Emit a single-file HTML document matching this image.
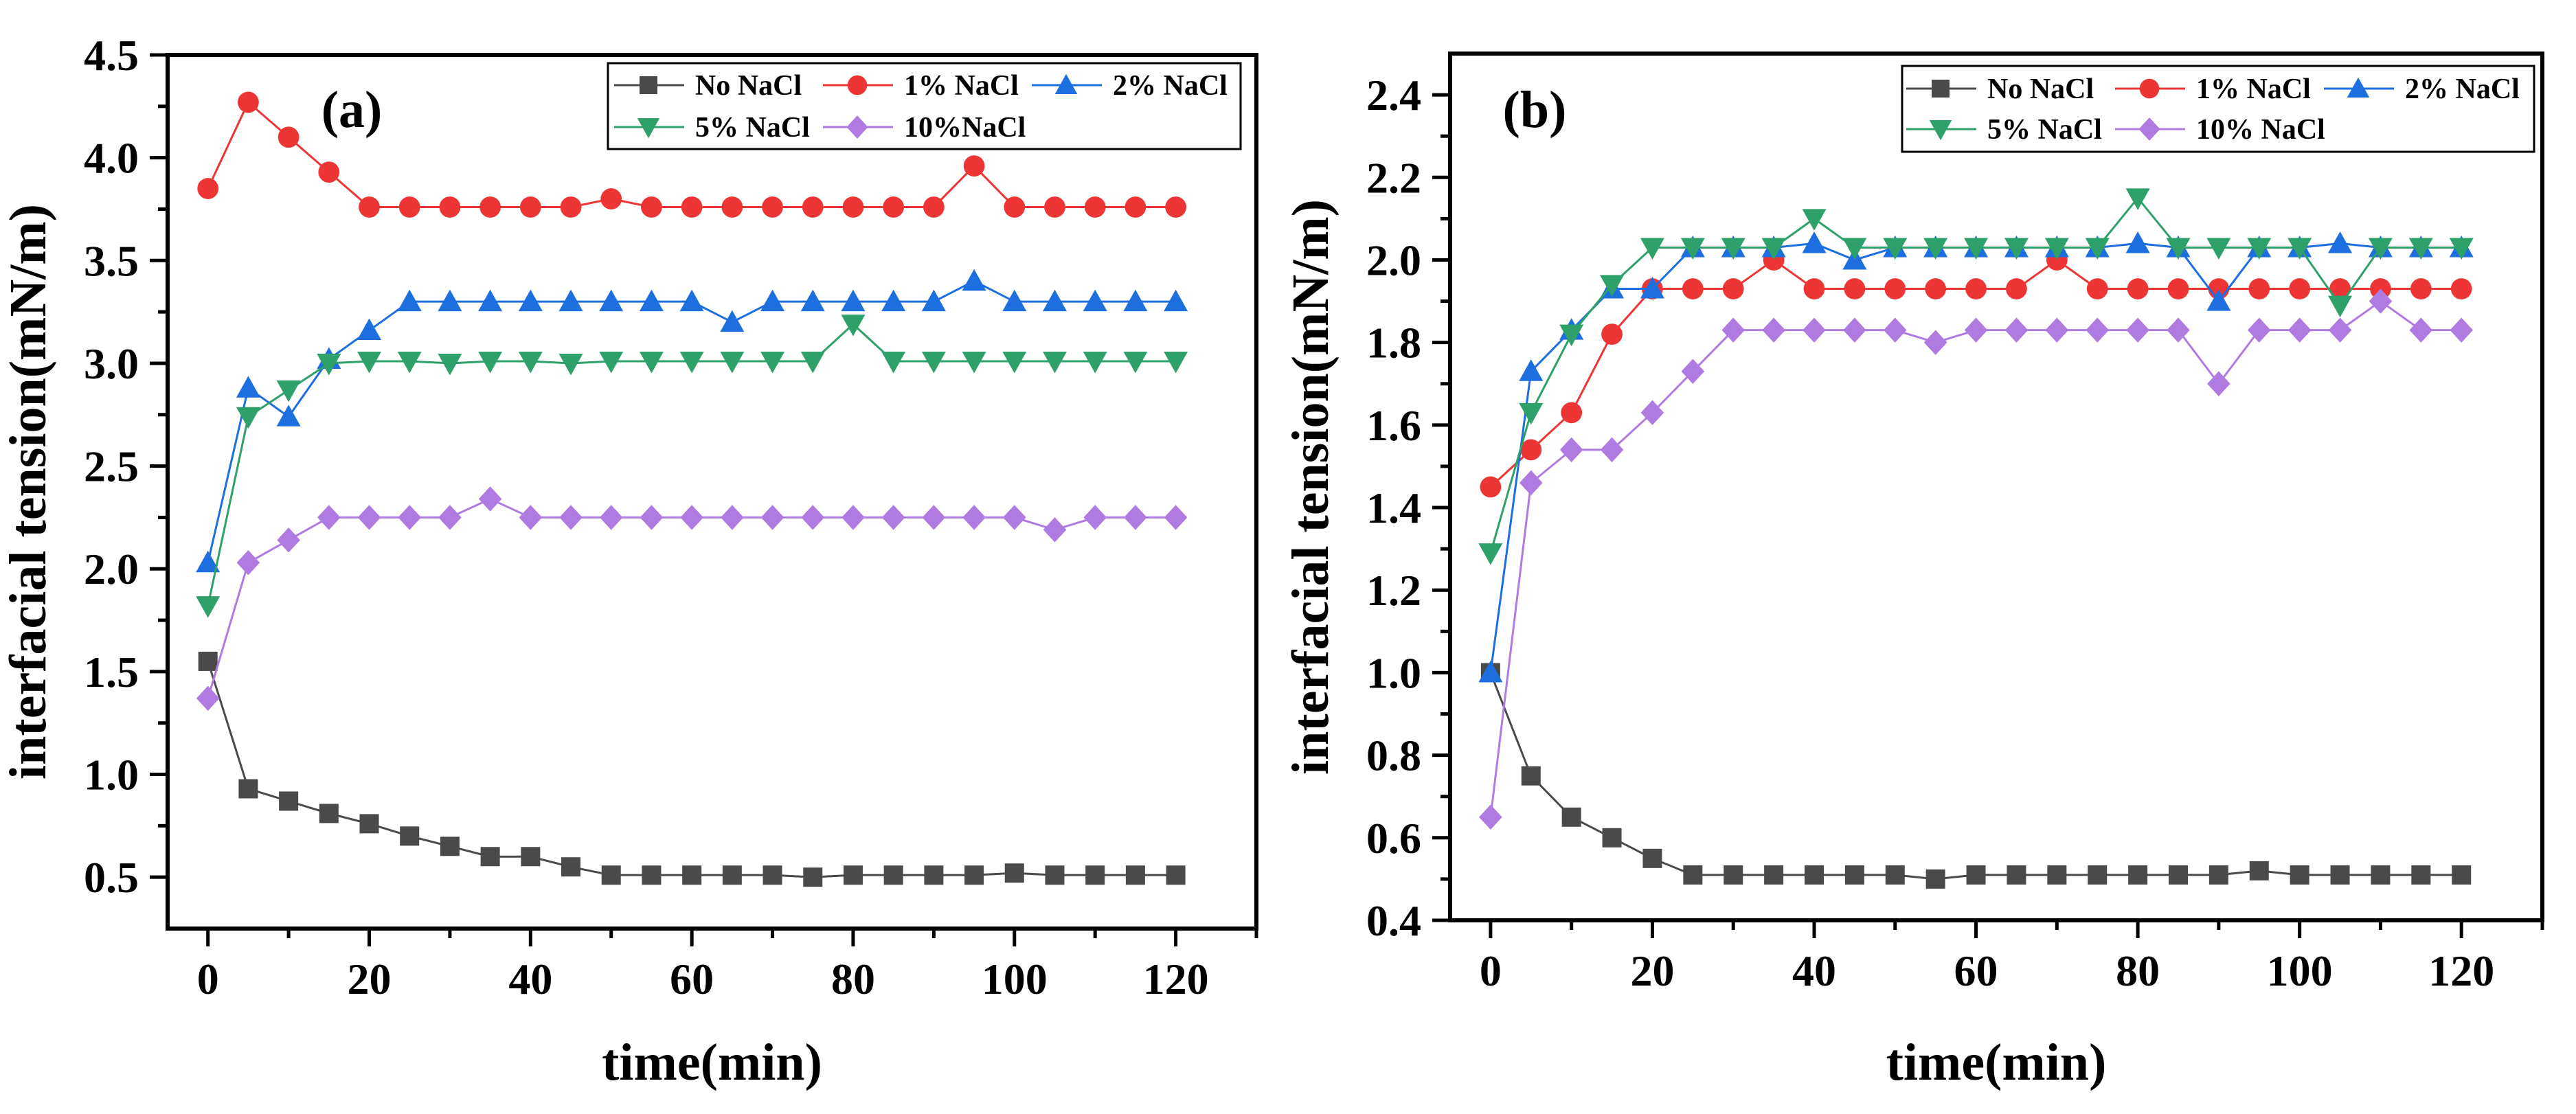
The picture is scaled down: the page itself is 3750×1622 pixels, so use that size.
<!DOCTYPE html>
<html><head><meta charset="utf-8"><style>
html,body{margin:0;padding:0;background:#fff;}
svg{display:block;}
text{font-family:"Liberation Serif",serif;font-weight:bold;fill:#000;}
</style></head>
<body>
<svg id="fig" width="3750" height="1622" viewBox="0 0 3750 1622" xmlns="http://www.w3.org/2000/svg"></svg>
<script>
const times = [0,5,10,15,20,25,30,35,40,45,50,55,60,65,70,75,80,85,90,95,100,105,110,115,120];
const seriesNames = ["No NaCl","1% NaCl","2% NaCl","5% NaCl","10%NaCl"];
const seriesNamesB = ["No NaCl","1% NaCl","2% NaCl","5% NaCl","10% NaCl"];
const aNo  = [1.55,0.93,0.87,0.81,0.76,0.70,0.65,0.60,0.60,0.55,0.51,0.51,0.51,0.51,0.51,0.50,0.51,0.51,0.51,0.51,0.52,0.51,0.51,0.51,0.51];
const a1   = [3.85,4.27,4.10,3.93,3.76,3.76,3.76,3.76,3.76,3.76,3.80,3.76,3.76,3.76,3.76,3.76,3.76,3.76,3.76,3.96,3.76,3.76,3.76,3.76,3.76];
const a2   = [2.03,2.88,2.74,3.02,3.16,3.30,3.30,3.30,3.30,3.30,3.30,3.30,3.30,3.20,3.30,3.30,3.30,3.30,3.30,3.40,3.30,3.30,3.30,3.30,3.30];
const a5   = [1.82,2.74,2.87,3.00,3.01,3.01,3.00,3.01,3.01,3.00,3.01,3.01,3.01,3.01,3.01,3.01,3.19,3.01,3.01,3.01,3.01,3.01,3.01,3.01,3.01];
const a10  = [1.37,2.03,2.14,2.25,2.25,2.25,2.25,2.34,2.25,2.25,2.25,2.25,2.25,2.25,2.25,2.25,2.25,2.25,2.25,2.25,2.25,2.19,2.25,2.25,2.25];
const bNo  = [1.00,0.75,0.65,0.60,0.55,0.51,0.51,0.51,0.51,0.51,0.51,0.50,0.51,0.51,0.51,0.51,0.51,0.51,0.51,0.52,0.51,0.51,0.51,0.51,0.51];
const b1   = [1.45,1.54,1.63,1.82,1.93,1.93,1.93,2.00,1.93,1.93,1.93,1.93,1.93,1.93,2.00,1.93,1.93,1.93,1.93,1.93,1.93,1.93,1.93,1.93,1.93];
const b2   = [1.00,1.73,1.83,1.93,1.93,2.03,2.03,2.03,2.04,2.00,2.03,2.03,2.03,2.03,2.03,2.03,2.04,2.03,1.90,2.03,2.03,2.04,2.03,2.03,2.03];
const b5   = [1.29,1.63,1.82,1.94,2.03,2.03,2.03,2.03,2.10,2.03,2.03,2.03,2.03,2.03,2.03,2.03,2.15,2.03,2.03,2.03,2.03,1.89,2.03,2.03,2.03];
const b10  = [0.65,1.46,1.54,1.54,1.63,1.73,1.83,1.83,1.83,1.83,1.83,1.80,1.83,1.83,1.83,1.83,1.83,1.83,1.70,1.83,1.83,1.83,1.90,1.83,1.83];
const xTicks = [0,20,40,60,80,100,120];
const yTicksA = ["0.5","1.0","1.5","2.0","2.5","3.0","3.5","4.0","4.5"];
const yTicksB = ["0.4","0.6","0.8","1.0","1.2","1.4","1.6","1.8","2.0","2.2","2.4"];

const NS="http://www.w3.org/2000/svg";
const svg=document.getElementById('fig');
function mk(tag,attrs,parent){const e=document.createElementNS(NS,tag);for(const k in attrs)e.setAttribute(k,attrs[k]);(parent||svg).appendChild(e);return e;}
const colors=["#4a4a4a","#ee3535","#1d6fe0","#2ea06a","#b07be0"];
const shapes=["square","circle","up","down","diamond"];

function marker(g,shape,x,y,c,s){
  let e;
  if(shape==="square") e=mk('rect',{x:x-s,y:y-s,width:2*s,height:2*s,fill:c},g);
  else if(shape==="circle") e=mk('circle',{cx:x,cy:y,r:s*1.1,fill:c},g);
  else if(shape==="up") e=mk('polygon',{points:`${x},${y-s*1.25} ${x-s*1.25},${y+s} ${x+s*1.25},${y+s}`,fill:c},g);
  else if(shape==="down") e=mk('polygon',{points:`${x},${y+s*1.25} ${x-s*1.25},${y-s} ${x+s*1.25},${y-s}`,fill:c},g);
  else e=mk('polygon',{points:`${x},${y-s*1.3} ${x+s*1.2},${y} ${x},${y+s*1.3} ${x-s*1.2},${y}`,fill:c},g);
  return e;
}

function panel(cfg){
  const {L,R,T,B,ymin,ymax,yTicks,yMinorStep,data,names,tag,tagX,leg,id}=cfg;
  const xmin=-5,xmax=130;
  const sx=v=>L+(v-xmin)/(xmax-xmin)*(R-L);
  const sy=v=>B-(v-ymin)/(ymax-ymin)*(B-T);
  const g=mk('g',{});
  
  
  // series
  data.forEach((arr,si)=>{
    const sg=mk('g',{},g);
    
    
    const pts=arr.map((v,i)=>sx(times[i])+','+sy(v)).join(' ');
    mk('polyline',{points:pts,fill:'none',stroke:colors[si],'stroke-width':3},sg);
    arr.forEach((v,i)=>{const m=marker(sg,shapes[si],sx(times[i]),sy(v),colors[si],14);
      
      });
  });
  // frame
  const fr=mk('rect',{x:L,y:T,width:R-L,height:B-T,fill:'none',stroke:'#000','stroke-width':6},g);
  
  
  // x ticks
  for(let v=0;v<=130;v+=10){
    const major=v%20===0;
    mk('line',{x1:sx(v),x2:sx(v),y1:B,y2:B+(major?26:14),stroke:'#000','stroke-width':5},g);
  }
  xTicks.forEach(v=>{const t=mk('text',{x:sx(v),y:B+95,'font-size':64,'text-anchor':'middle'},g);t.textContent=v;
    
    });
  // y ticks
  yTicks.forEach(s=>{const v=parseFloat(s);
    mk('line',{x1:L-26,x2:L,y1:sy(v),y2:sy(v),stroke:'#000','stroke-width':5},g);
    const t=mk('text',{x:L-42,y:sy(v)+22,'font-size':64,'text-anchor':'end'},g);t.textContent=s;
    
    
    const mv=v+yMinorStep; if(mv<ymax) mk('line',{x1:L-14,x2:L,y1:sy(mv),y2:sy(mv),stroke:'#000','stroke-width':5},g);
    const mv2=v-yMinorStep; if(mv2>ymin && s===yTicks[0]) mk('line',{x1:L-14,x2:L,y1:sy(mv2),y2:sy(mv2),stroke:'#000','stroke-width':5},g);
  });
  // titles
  const xt=mk('text',{x:(L+R)/2,y:1572,'font-size':76,'text-anchor':'middle'},g);xt.textContent='time(min)';
  
  
  const yx=L-178,yy=(T+B)/2;
  const yt=mk('text',{x:yx,y:yy,'font-size':76,'text-anchor':'middle',transform:`rotate(-90 ${yx} ${yy})`},g);yt.textContent='interfacial tension(mN/m)';
  
  
  const pt=mk('text',{x:tagX,y:185,'font-size':76,'text-anchor':'middle'},g);pt.textContent=tag;
  
  
  // legend
  const lg=mk('g',{},g);
  
  
  mk('rect',{x:leg.x,y:leg.y,width:leg.w,height:leg.h,fill:'#fff',stroke:'#000','stroke-width':3},lg);
  leg.items.forEach((it,si)=>{
    const eg=mk('g',{},lg);
    
    
    mk('line',{x1:it[0]-50,x2:it[0]+52,y1:it[1],y2:it[1],stroke:colors[si],'stroke-width':3},eg);
    marker(eg,shapes[si],it[0],it[1],colors[si],13);
    const t=mk('text',{x:it[0]+68,y:it[1]+14,'font-size':42},eg);t.textContent=names[si];
  });
}

panel({id:'panel-a',L:244,R:1829,T:80,B:1352,ymin:0.25,ymax:4.5,yTicks:yTicksA,yMinorStep:0.25,
  data:[aNo,a1,a2,a5,a10],names:seriesNames,tag:'(a)',tagX:512,
  leg:{x:885,y:92,w:921,h:125,items:[[944,124],[1248,124],[1552,124],[944,185],[1248,185]]}});
panel({id:'panel-b',L:2111,R:3701,T:78,B:1340,ymin:0.4,ymax:2.5,yTicks:yTicksB,yMinorStep:0.1,
  data:[bNo,b1,b2,b5,b10],names:seriesNamesB,tag:'(b)',tagX:2234,
  leg:{x:2769,y:96,w:920,h:125,items:[[2825,129],[3129,129],[3433,129],[2825,188],[3129,188]]}});
</script>
</body></html>
